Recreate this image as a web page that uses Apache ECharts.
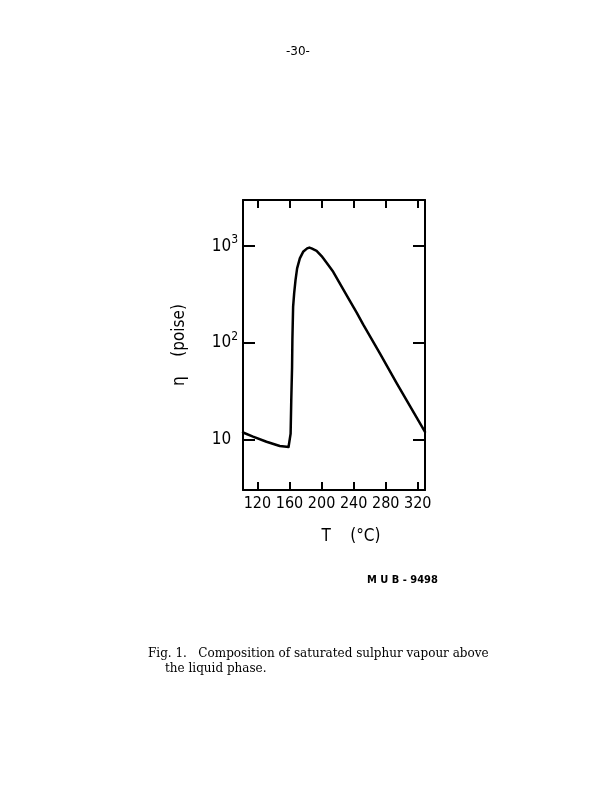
<!DOCTYPE html>
<html>
<head>
<meta charset="utf-8">
<script src="https://cdn.jsdelivr.net/npm/echarts@6/dist/echarts.min.js"></script>
<style>
html,body{margin:0;padding:0;background:#fff;}
#c{width:607px;height:787px;}
</style>
</head>
<body>
<div id="c"></div>
<script>
// Temperature (°C)
var temps = [102, 114.5, 131.3, 147.9, 156.3, 158.8, 160.5, 161.4, 162.2, 163.2, 163.6, 164.5, 165.8, 167.5, 169.5, 172.9, 177, 182, 184.8, 187.5, 193.8, 200, 206.3, 214.5, 222.9, 233.3, 243.8, 252, 272.9, 293.8, 329];
// Viscosity eta (poise)
var viscosity = [11.8, 10.7, 9.47, 8.55, 8.4, 8.35, 8.7, 11.5, 25.5, 56, 107, 235, 324, 445, 588, 746, 873, 947, 966, 947, 894, 789, 672, 542, 409, 290, 205, 154, 77.3, 38, 12.0];
var xTicks = [120, 160, 200, 240, 280, 320];
var yTicks = [10, 100, 1000];
var yTickLabels = {10: '10{h|3}', 100: '10{s|2}', 1000: '10{s|3}'};

var narrow = '"Liberation Sans Narrow", "DejaVu Sans Condensed", "Liberation Sans", sans-serif';
var chart = echarts.init(document.getElementById('c'), null, {renderer: 'canvas'});
var axisLine = {show: true, onZero: false, lineStyle: {color: '#000', width: 2}};
var supRich = {
  s: {fontSize: 12, fontFamily: narrow, color: '#000', padding: [0, 0, 12, 0]},
  h: {fontSize: 12, fontFamily: narrow, color: 'rgba(0,0,0,0)', padding: [0, 0, 12, 0]}
};
chart.setOption({
  backgroundColor: '#fff',
  animation: false,
  grid: {left: 243, top: 200, right: 182, bottom: 297, containLabel: false},
  xAxis: [{
    type: 'value', position: 'bottom', min: 102, max: 329,
    axisLine: axisLine,
    axisTick: {show: true, inside: true, length: 8, lineStyle: {color: '#000', width: 2}, customValues: xTicks},
    axisLabel: {show: true, margin: 6, color: '#000', fontSize: 16, fontFamily: narrow, customValues: xTicks},
    splitLine: {show: false},
    name: 'T    (°C)', nameLocation: 'middle', nameGap: 38,
    nameTextStyle: {color: '#000', fontSize: 17, fontFamily: narrow, padding: [0, 0, 0, 34]}
  }, {
    type: 'value', position: 'top', min: 102, max: 329,
    axisLine: axisLine,
    axisTick: {show: true, inside: true, length: 8, lineStyle: {color: '#000', width: 2}, customValues: xTicks},
    axisLabel: {show: false},
    splitLine: {show: false}
  }],
  yAxis: [{
    type: 'log', logBase: 10, position: 'left', min: 3, max: 3000,
    axisLine: axisLine,
    axisTick: {show: true, inside: true, length: 12, lineStyle: {color: '#000', width: 2}, customValues: yTicks},
    axisLabel: {show: true, margin: 5, color: '#000', fontSize: 17, fontFamily: narrow, customValues: yTicks,
      formatter: function (v) { return yTickLabels[Math.round(v)] || String(v); }, rich: supRich},
    splitLine: {show: false},
    name: 'η    (poise)', nameLocation: 'middle', nameGap: 55, nameRotate: 90,
    nameTextStyle: {color: '#000', fontSize: 17, fontFamily: narrow}
  }, {
    type: 'log', logBase: 10, position: 'right', min: 3, max: 3000,
    axisLine: axisLine,
    axisTick: {show: true, inside: true, length: 12, lineStyle: {color: '#000', width: 2}, customValues: yTicks},
    axisLabel: {show: false},
    splitLine: {show: false}
  }],
  series: [{
    type: 'line', xAxisIndex: 0, yAxisIndex: 0,
    data: temps.map(function (t, i) { return [t, viscosity[i]]; }),
    showSymbol: false, smooth: false,
    lineStyle: {color: '#000', width: 2.5, join: 'round', cap: 'round'}
  }],
  graphic: [
    {type: 'text', left: 286, top: 46, style: {text: '-30-', fill: '#000', font: '12px "DejaVu Sans", sans-serif'}},
    {type: 'text', left: 367, top: 575, style: {text: 'M U B - 9498', fill: '#000', font: 'bold 11px "DejaVu Sans Condensed", "DejaVu Sans", sans-serif'}},
    {type: 'text', left: 148, top: 648, style: {text: 'Fig. 1.   Composition of saturated sulphur vapour above', fill: '#000', font: '12px "DejaVu Serif", serif'}},
    {type: 'text', left: 165, top: 663, style: {text: 'the liquid phase.', fill: '#000', font: '12px "DejaVu Serif", serif'}}
  ]
});
</script>
</body>
</html>
